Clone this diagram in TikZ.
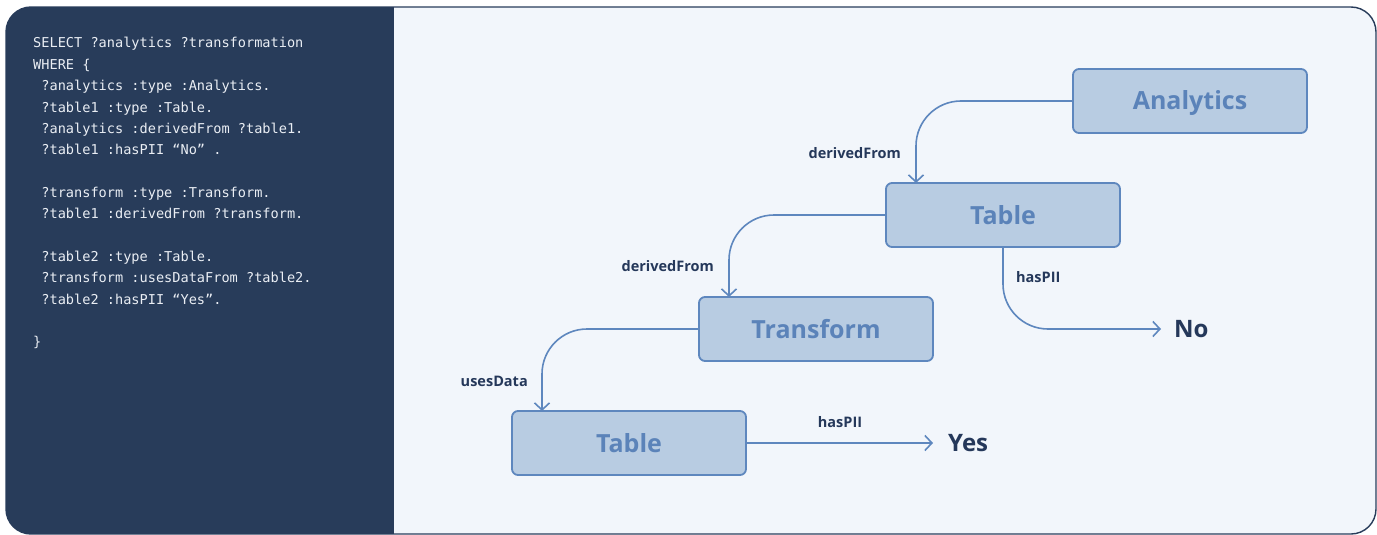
\documentclass[tikz,border=0pt]{standalone}
\usepackage{fontspec}
\setmainfont{Open Sans}
\newfontfamily\codefont{DejaVu Sans Mono}
\usetikzlibrary{positioning, arrows.meta}

\definecolor{navy}{HTML}{283C5A}
\definecolor{paper}{HTML}{F2F6FB}
\definecolor{boxfill}{HTML}{B8CCE2}
\definecolor{boxline}{HTML}{5E87BE}
\definecolor{boxtext}{HTML}{5B83B9}
\definecolor{labeltext}{HTML}{25385A}
\definecolor{codetext}{HTML}{EAEEF4}

\begin{document}
\begin{tikzpicture}[
    x=1pt, y=-1pt,
    % Styles
    entity/.style={ % class box
        rectangle,
        rounded corners=6pt,
        minimum width=234pt,
        minimum height=64pt,
        outer sep=0pt,
        text height=18pt,
        text depth=0pt,
        draw=boxline,
        line width=1.8pt,
        fill=boxfill,
        text=boxtext,
        font=\fontsize{25}{29}\selectfont\bfseries
    },
    link/.style={ % connector with open head
        draw=boxline,
        line width=1.6pt,
        -{Straight Barb[length=7pt, width=15pt]},
        rounded corners=45pt
    },
    edgelabel/.style={ % property name
        text=labeltext,
        inner sep=0pt,
        font=\fontsize{14.5}{17}\selectfont\bfseries
    },
    answer/.style={ % Yes / No
        text=labeltext,
        inner sep=0pt,
        text height=17pt,
        text depth=0pt,
        font=\fontsize{24}{28}\selectfont\bfseries
    },
    codeline/.style={
        text=codetext,
        inner sep=0pt,
        anchor=base west,
        font=\codefont\fontsize{13.6}{16}\selectfont
    }
]

    \useasboundingbox (0,0) rectangle (1377,535);

    % Frame and panels
    \begin{scope}
        \clip[rounded corners=25pt] (6,7) rectangle (1376,534);
        \fill[paper] (6,7) rectangle (1376,534);
        \fill[navy] (6,7) rectangle (394,534);
    \end{scope}
    \draw[navy, line width=1.4pt, rounded corners=25pt] (6,7) rectangle (1376,534);

    % Query
    \foreach \i/\t in {
        1/{SELECT ?analytics ?transformation},
        2/{WHERE \{},
        3/{\ ?analytics :type :Analytics.},
        4/{\ ?table1 :type :Table.},
        5/{\ ?analytics :derivedFrom ?table1.},
        6/{\ ?table1 :hasPII “No” .},
        8/{\ ?transform :type :Transform.},
        9/{\ ?table1 :derivedFrom ?transform.},
        11/{\ ?table2 :type :Table.},
        12/{\ ?transform :usesDataFrom ?table2.},
        13/{\ ?table2 :hasPII “Yes”.},
        15/{\}}} {
        \node[codeline] (code\i) at (33, {48 + (\i-1)*21.35}) {\t};
    }

    % Lineage boxes
    \node[entity] (ana) at (1190,101) {Analytics};
    \node[entity, below left=50pt and -47pt of ana] (tab1) {Table};
    \node[entity, below left=50pt and -47pt of tab1] (trans) {Transform};
    \node[entity, below left=50pt and -47pt of trans] (tab2) {Table};

    % Answers
    \node[answer, anchor=west] (no) at (1174,329) {No};
    \node[answer, anchor=west] (yes) at (948,443) {Yes};

    % Connectors
    \draw[link] (ana.west) -| ([xshift=30pt]tab1.north west);
    \draw[link] (tab1.west) -| ([xshift=30pt]trans.north west);
    \draw[link] (trans.west) -| ([xshift=30pt]tab2.north west);
    \draw[link, shorten >=13pt] (tab1.south) |- (no.west);
    \draw[link, shorten >=15pt] (tab2.east) -- (yes.west);

    % Property names
    \node[edgelabel, anchor=east] (lblana) at (901,153) {derivedFrom};
    \node[edgelabel, anchor=east] (lbltab) at (714,266) {derivedFrom};
    \node[edgelabel, anchor=east] (lbltrans) at (528,381) {usesData};
    \node[edgelabel, anchor=west] (lblno) at (1016,277) {hasPII};
    \node[edgelabel] (lblyes) at (840,422) {hasPII};
\end{tikzpicture}
\end{document}
